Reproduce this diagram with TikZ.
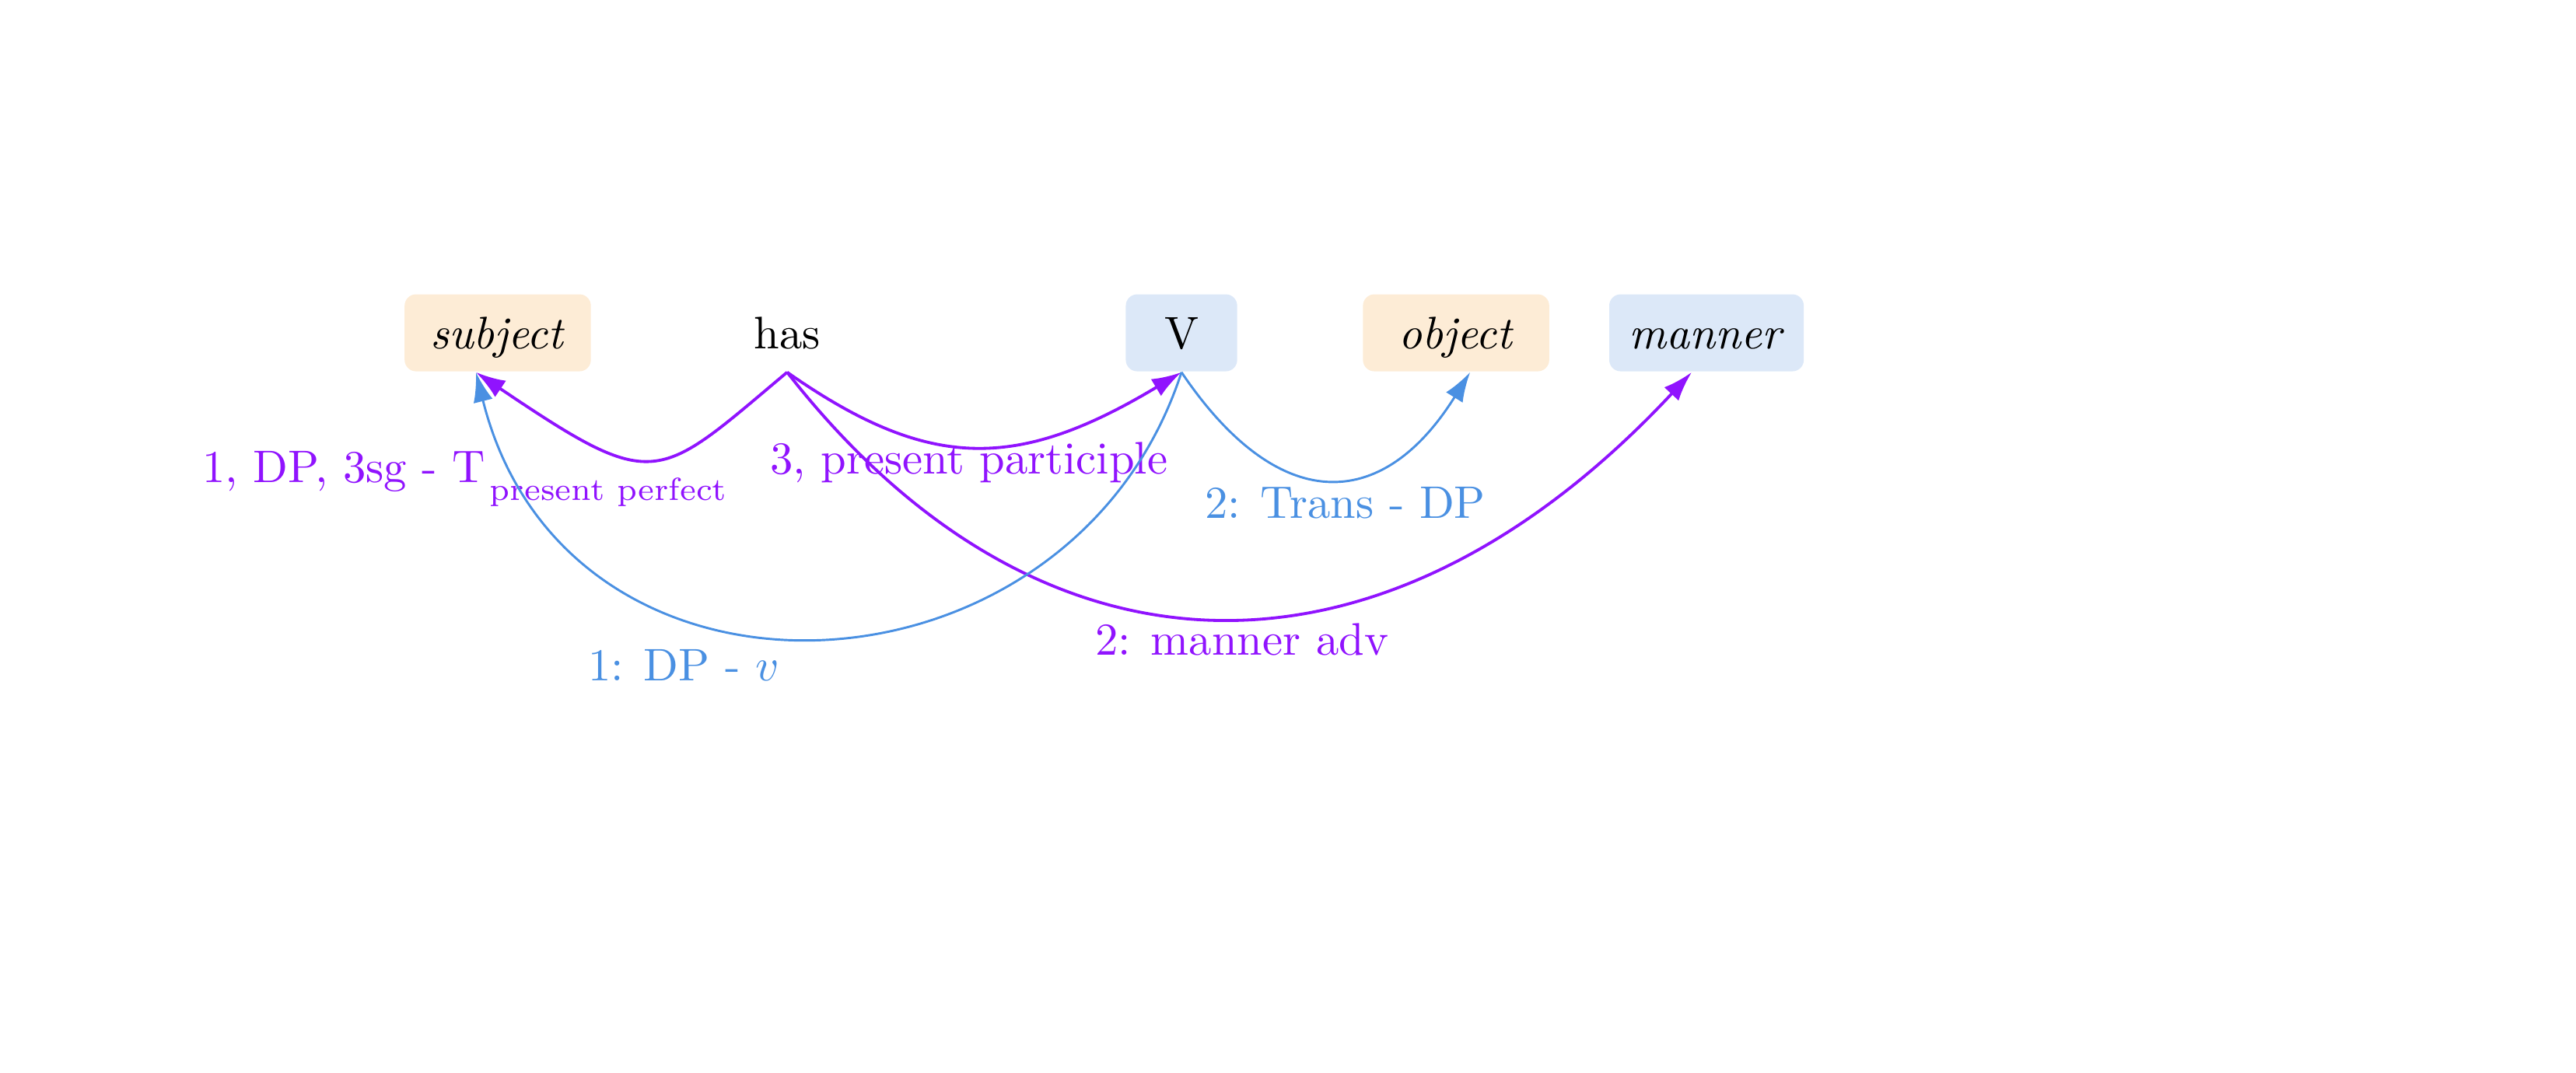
\documentclass[tikz,border=0pt]{standalone}
\usepackage{amsmath}
\usetikzlibrary{arrows.meta}
\definecolor{depPurple}{RGB}{144,19,254}
\definecolor{depBlue}{RGB}{74,144,226}
\definecolor{boxOrange}{RGB}{253,236,214}
\definecolor{boxBlue}{RGB}{220,232,248}
\tikzset{
	word/.style = {rounded corners=2.5pt, minimum height=0.593cm, minimum width=40.8pt, inner xsep=4.3pt, text height=7pt, text depth=0pt},
	arg/.style = {word, fill=boxOrange},
	head/.style = {word, fill=boxBlue},
	purplearc/.style = {draw=depPurple, line width=0.65pt, -{Latex[length=6.5pt, width=4.3pt]}},
	bluearc/.style = {draw=depBlue, line width=0.5pt, -{Latex[length=6.5pt, width=4.3pt]}},
	deplabel/.style = {inner sep=0pt, anchor=base west}
}

\begin{document}
\begin{tikzpicture}
	\useasboundingbox (0,0) rectangle (19.832,-8.263);
	% ====== Words ========
	\node[arg] (subj) at (3.832,-2.563) {\textit{subject}};
	\node[word] (has) at (6.060,-2.563) {has};
	\node[head, minimum width=24.4pt] (V) at (9.096,-2.563) {V};
	\node[arg] (obj) at (11.210,-2.563) {\textit{object}};
	\node[head] (man) at (13.138,-2.563) {\textit{manner}};
	% ====== Labels ========
	\node[deplabel, text=depPurple] (lblSubj) at (1.551,-3.713) {1, DP, 3sg - T\kern1pt\raisebox{-4pt}{\scriptsize present perfect}};
	\node[deplabel, text=depPurple] (lblPart) at (5.922,-3.647) {3, present participle};
	\node[deplabel, text=depBlue] (lblObj) at (9.269,-3.988) {2: Trans - DP};
	\node[deplabel, text=depBlue] (lblDP) at (4.521,-5.240) {1: DP - $v$};
	\node[deplabel, text=depPurple] (lblMan) at (8.425,-5.042) {2: manner adv};
	% ====== Arcs ========
	\draw[purplearc] (has.south) .. controls +(-140:1.32) and +(-34:1.68) .. ([xshift=-0.168cm]subj.south);
	\draw[purplearc] (has.south) .. controls +(-35:1.33) and +(-149:1.48) .. (V.south);
	\draw[purplearc] (has.south) .. controls +(-52:3.2) and +(-133:3.45) .. ([xshift=-0.114cm]man.south);
	\draw[bluearc] (V.south) .. controls +(-108:2.75) and +(-76:2.9) .. ([xshift=-0.168cm]subj.south);
	\draw[bluearc] (V.south) .. controls +(-56:1.32) and +(-122:1.29) .. ([xshift=0.108cm]obj.south);
\end{tikzpicture}
\end{document}
